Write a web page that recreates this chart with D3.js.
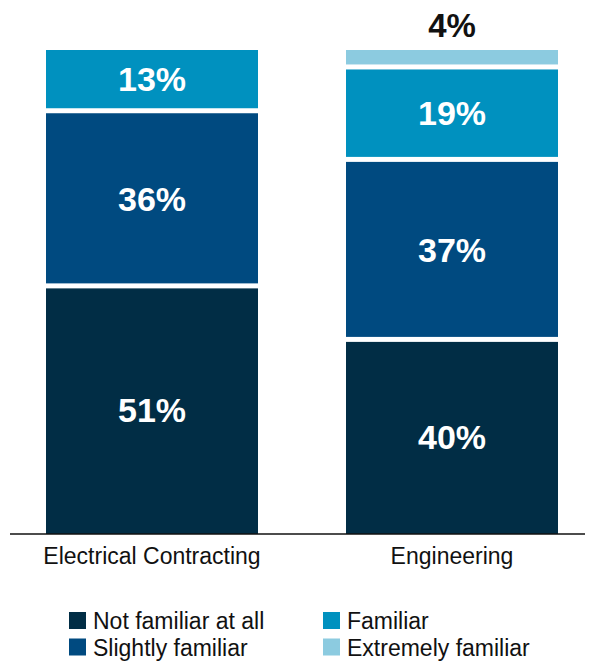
<!DOCTYPE html>
<html>
<head>
<meta charset="utf-8">
<script src="https://d3js.org/d3.v7.min.js"></script>
<style>
body { margin: 0; background: #fff; }
text { font-family: "Liberation Sans", Arial, Helvetica, sans-serif; }
</style>
</head>
<body>
<div id="chart"></div>
<script>
// data
var categories = ["Electrical Contracting", "Engineering"];
var levels = ["Not familiar at all", "Slightly familiar", "Familiar", "Extremely familiar"];
var notFamiliar = [51, 40];
var slightlyFamiliar = [36, 37];
var familiar = [13, 19];
var extremelyFamiliar = [0, 4];
var colors = ["#012d45", "#004a80", "#0091bf", "#8ccbe0"];

var width = 589, height = 662;
var baseY = 534, gap = 5;

var svg = d3.select("#chart").append("svg")
    .attr("width", width)
    .attr("height", height);

var rows = categories.map(function(c, i) {
    return {
        cat: c,
        "Not familiar at all": notFamiliar[i],
        "Slightly familiar": slightlyFamiliar[i],
        "Familiar": familiar[i],
        "Extremely familiar": extremelyFamiliar[i]
    };
});

var stack = d3.stack().keys(levels);
var series = stack(rows);

var x = d3.scaleBand()
    .domain(categories)
    .range([2, 602])
    .paddingInner(88 / 300)
    .paddingOuter(44 / 300);

var y = d3.scaleLinear().domain([0, 100]).range([baseY, 47.5]);

var color = d3.scaleOrdinal().domain(levels).range(colors);

var layer = svg.selectAll(".layer").data(series).enter().append("g")
    .attr("class", "layer")
    .attr("fill", function(d) { return color(d.key); });

layer.selectAll("rect")
    .data(function(d) { return d.map(function(v) { return {key: d.key, v: v}; }); })
    .enter().filter(function(d) { return d.v[1] - d.v[0] > 0; })
    .append("rect")
    .attr("x", function(d) { return x(d.v.data.cat); })
    .attr("width", x.bandwidth())
    .attr("y", function(d) { return y(d.v[1]) + gap / 2; })
    .attr("height", function(d) {
        var bottom = d.v[0] === 0 ? y(0) : y(d.v[0]) - gap / 2;
        return bottom - (y(d.v[1]) + gap / 2);
    });

// value labels
series.forEach(function(s) {
    s.forEach(function(v) {
        var val = v[1] - v[0];
        if (val <= 0) return;
        var small = val < 8;
        var t = svg.append("text")
            .attr("x", x(v.data.cat) + x.bandwidth() / 2)
            .attr("text-anchor", "middle")
            .attr("font-size", small ? 33 : 34)
            .attr("font-weight", "bold")
            .attr("fill", small ? "#111" : "#fff")
            .text(val + "%");
        if (small) {
            t.attr("y", y(v[1]) - 10.5);
        } else {
            t.attr("y", (y(v[0]) + y(v[1])) / 2).attr("dy", "0.36em");
        }
    });
});

// baseline
svg.append("line")
    .attr("x1", 10).attr("x2", 585)
    .attr("y1", baseY).attr("y2", baseY)
    .attr("stroke", "#111").attr("stroke-width", 1.5);

svg.selectAll(".cat").data(categories).enter().append("text")
    .attr("class", "cat")
    .attr("x", function(d) { return x(d) + x.bandwidth() / 2; })
    .attr("y", 564)
    .attr("text-anchor", "middle")
    .attr("font-size", 23)
    .attr("fill", "#111")
    .text(function(d) { return d; });

// legend
var legendPos = [[69, 612], [69, 638.5], [323, 612], [323, 638.5]];
var lg = svg.selectAll(".leg").data(levels).enter().append("g")
    .attr("class", "leg")
    .attr("transform", function(d, i) { return "translate(" + legendPos[i][0] + "," + legendPos[i][1] + ")"; });
lg.append("rect").attr("width", 17).attr("height", 17)
    .attr("fill", function(d) { return color(d); });
lg.append("text").attr("x", 24).attr("y", 17)
    .attr("font-size", 23).attr("fill", "#111")
    .text(function(d) { return d; });
</script>
</body>
</html>
